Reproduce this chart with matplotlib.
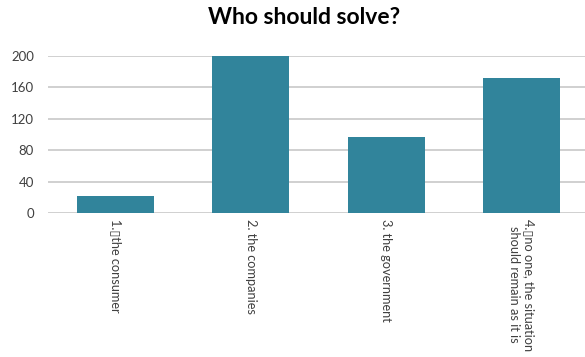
import matplotlib.pyplot as plt
import numpy as np

plt.rcParams["font.family"] = ["Lato", "DejaVu Sans"]

CATEGORIES = [
    "1.\u25afthe consumer",
    "2. the companies",
    "3. the government",
    "4.\u25afno one, the situation\nshould remain as it is",
]
VALUES = [21, 200, 96, 172]
YTICKS = [0, 40, 80, 120, 160, 200]
BAR_COLOR = "#31849B"


def main():
    fig = plt.figure(figsize=(5.85, 3.57), dpi=100)
    ax = fig.add_axes([48 / 585, 1 - 213 / 357, 541 / 585, (213 - 55.7) / 357])
    x = np.arange(len(CATEGORIES))
    ax.bar(x, VALUES, width=0.57, color=BAR_COLOR, zorder=3, clip_on=False)
    ax.set_xlim(-0.5, len(CATEGORIES) - 0.5)
    ax.set_ylim(0, 200)
    ax.set_yticks(YTICKS)
    ax.yaxis.grid(True, color="#C8C8C8", lw=1.2, zorder=0)
    for s in ax.spines.values():
        s.set_visible(False)
    ax.tick_params(axis="y", length=0, labelsize=9.5, pad=10, labelcolor="#404040")
    ax.set_xticks(x)
    ax.set_xticklabels(CATEGORIES, rotation=-90, fontsize=9.2, va="top",
                       ha="center", multialignment="center", color="#404040")
    ax.tick_params(axis="x", length=0, pad=4)
    fig.suptitle("Who should solve?", x=0.52, y=0.98, fontsize=16.5, fontweight="bold")
    fig.savefig("out.png", dpi=100)


if __name__ == "__main__":
    main()
